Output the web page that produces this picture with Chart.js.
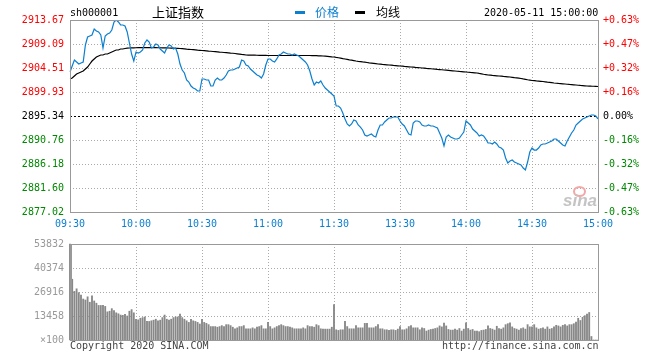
<!DOCTYPE html>
<html>
<head>
<meta charset="utf-8">
<script src="https://cdn.jsdelivr.net/npm/chart.js@4/dist/chart.umd.min.js"></script>
<style>
  html, body { margin: 0; padding: 0; background: #fff; }
  #wrap { position: relative; width: 660px; height: 360px; overflow: hidden;
          font-family: 'DejaVu Sans Mono', monospace; font-size: 10px; }
  #wrap canvas { position: absolute; left: 0; }
  .txt { position: absolute; white-space: nowrap; line-height: 12px; }
  .cjk { font-family: 'Noto Sans CJK SC', sans-serif; line-height: 14px; }
  .key { position: absolute; width: 10px; height: 3px; }
</style>
</head>
<body>
<div id="wrap">
  <canvas id="price" width="660" height="232" style="top:0;width:660px;height:232px"></canvas>
  <canvas id="volume" width="660" height="128" style="top:232px;width:660px;height:128px"></canvas>

  <span class="txt" style="left:70px;top:7px;color:#000">sh000001</span>
  <span class="txt cjk" style="left:152px;top:5px;font-size:13px;color:#000">上证指数</span>
  <span class="key" style="left:295px;top:11px;background:#0b7fd0"></span>
  <span class="txt cjk" style="left:315px;top:5px;font-size:12px;color:#0b7fd0">价格</span>
  <span class="key" style="left:355px;top:11px;background:#000"></span>
  <span class="txt cjk" style="left:376px;top:5px;font-size:12px;color:#000">均线</span>
  <span class="txt" style="left:484px;top:7px;color:#000">2020-05-11 15:00:00</span>

  <span style="position:absolute;left:573px;top:186px;width:9px;height:7px;border:2px solid #f3a8a8;border-radius:50%"></span>
  <span class="txt" style="left:563px;top:192px;font:italic bold 17px 'Liberation Sans',sans-serif;line-height:18px;color:#c4c4c4">sina</span>

  <span class="txt" style="left:70px;top:340px;color:#444">Copyright 2020 SINA.COM</span>
  <span class="txt" style="left:442px;top:340px;color:#444">http://finance.sina.com.cn</span>
</div>

<script>
const BLUE = '#0b7fd0'
const RED = '#f00'
const GREEN = '#080'

// prev close 2895.34, scale symmetric around it
const prevClose = 2895.34
const priceTicks = [2877.02, 2881.60, 2886.18, 2890.76, 2895.34, 2899.93, 2904.51, 2909.09, 2913.67]
const pctTicks = ['-0.63%', '-0.47%', '-0.32%', '-0.16%', '0.00%', '+0.16%', '+0.32%', '+0.47%', '+0.63%']
const timeTicks = ['09:30', '10:00', '10:30', '11:00', '11:30', '13:30', '14:00', '14:30', '15:00']
const timeTickIdx = [0, 30, 60, 90, 120, 150, 180, 210, 240]
const volTicks = [0, 13458, 26916, 40374, 53832]
const volTickLabels = ['×100', '13458', '26916', '40374', '53832']

// one value per minute, 09:30 .. 11:30, 13:01 .. 15:00
const prices = [
  2903.74,2904.89,2906.03,2905.65,2905.27,2905.46,2905.65,2908.90,2910.42,2910.62,
  2910.81,2911.95,2911.57,2911.38,2910.81,2908.33,2910.62,2911.00,2911.19,2911.76,
  2913.29,2913.67,2913.29,2912.72,2912.72,2912.52,2911.38,2909.28,2907.18,2905.84,
  2907.56,2907.37,2907.56,2907.94,2909.28,2909.85,2909.47,2908.33,2908.52,2909.09,
  2908.90,2908.13,2907.75,2907.37,2908.33,2908.90,2908.71,2908.13,2908.33,2907.18,
  2905.27,2904.13,2903.55,2902.22,2901.83,2901.07,2900.69,2900.50,2900.12,2900.12,
  2902.41,2902.41,2902.22,2902.22,2901.07,2901.07,2902.22,2902.60,2902.22,2902.22,
  2902.60,2903.17,2903.93,2904.13,2904.13,2904.32,2904.51,2904.70,2906.03,2905.84,
  2905.08,2904.89,2904.32,2903.93,2903.55,2903.17,2902.98,2902.60,2903.36,2905.08,
  2906.23,2906.23,2905.84,2905.65,2906.23,2906.99,2907.18,2907.56,2907.37,2907.18,
  2907.18,2906.99,2907.18,2906.99,2906.80,2906.42,2906.03,2905.65,2905.08,2903.93,
  2902.41,2901.26,2901.83,2901.64,2902.03,2901.26,2900.69,2900.31,2899.93,2899.54,
  2899.16,2897.25,2897.25,2896.87,2895.92,2894.77,2893.82,2893.44,2893.82,2894.58,
  2894.39,2893.63,2893.24,2892.67,2891.72,2891.53,2891.72,2891.91,2891.53,2891.34,
  2892.67,2893.63,2893.63,2894.20,2894.58,2894.96,2894.96,2895.15,2895.15,2895.15,
  2894.39,2893.82,2893.44,2892.67,2891.91,2891.72,2894.01,2894.39,2894.39,2894.20,
  2893.63,2893.44,2893.44,2893.63,2893.44,2893.44,2893.24,2893.05,2892.10,2891.14,
  2889.62,2891.34,2891.72,2891.34,2891.14,2890.95,2890.95,2891.14,2891.72,2892.29,
  2894.39,2894.01,2893.63,2892.86,2892.48,2892.10,2891.53,2891.72,2891.53,2890.95,
  2890.19,2890.19,2890.00,2890.38,2890.00,2889.43,2889.24,2888.85,2887.33,2886.37,
  2886.75,2886.95,2886.56,2886.37,2886.18,2885.99,2885.42,2885.04,2886.56,2888.47,
  2889.24,2888.85,2888.85,2889.24,2889.81,2890.00,2890.00,2890.19,2890.38,2890.57,
  2890.95,2890.95,2890.57,2890.19,2889.81,2889.62,2890.57,2891.34,2892.10,2892.67,
  2893.63,2894.01,2894.39,2894.77,2894.96,2895.15,2895.34,2895.54,2895.54,2895.34,
  2894.80
]

const avgPrices = [
  2902.41,2902.60,2902.98,2903.36,2903.55,2903.74,2903.93,2904.32,2904.70,2905.27,
  2905.84,2906.23,2906.61,2906.80,2906.99,2906.99,2907.18,2907.18,2907.37,2907.56,
  2907.75,2907.94,2907.94,2908.13,2908.13,2908.23,2908.30,2908.33,2908.35,2908.36,
  2908.37,2908.38,2908.38,2908.38,2908.39,2908.39,2908.39,2908.38,2908.38,2908.38,
  2908.37,2908.37,2908.36,2908.35,2908.34,2908.33,2908.31,2908.29,2908.27,2908.25,
  2908.23,2908.19,2908.15,2908.11,2908.08,2908.04,2908.00,2907.96,2907.92,2907.89,
  2907.85,2907.81,2907.77,2907.73,2907.70,2907.66,2907.62,2907.58,2907.54,2907.51,
  2907.47,2907.43,2907.39,2907.35,2907.32,2907.28,2907.22,2907.16,2907.10,2907.05,
  2906.99,2906.98,2906.97,2906.96,2906.95,2906.94,2906.93,2906.92,2906.91,2906.90,
  2906.89,2906.89,2906.89,2906.89,2906.89,2906.89,2906.89,2906.89,2906.89,2906.89,
  2906.89,2906.89,2906.89,2906.89,2906.89,2906.89,2906.89,2906.89,2906.89,2906.89,
  2906.88,2906.87,2906.86,2906.84,2906.82,2906.80,2906.76,2906.72,2906.68,2906.64,
  2906.61,2906.53,2906.46,2906.38,2906.30,2906.23,2906.15,2906.07,2906.00,2905.92,
  2905.84,2905.78,2905.73,2905.67,2905.62,2905.56,2905.50,2905.45,2905.39,2905.33,
  2905.27,2905.23,2905.19,2905.16,2905.12,2905.08,2905.04,2905.00,2904.97,2904.93,
  2904.89,2904.85,2904.81,2904.78,2904.74,2904.70,2904.66,2904.62,2904.59,2904.55,
  2904.51,2904.47,2904.43,2904.40,2904.36,2904.32,2904.28,2904.24,2904.21,2904.17,
  2904.13,2904.09,2904.05,2904.01,2903.97,2903.93,2903.89,2903.85,2903.82,2903.78,
  2903.74,2903.70,2903.66,2903.63,2903.59,2903.55,2903.47,2903.40,2903.32,2903.25,
  2903.17,2903.13,2903.09,2903.06,2903.02,2902.98,2902.94,2902.90,2902.87,2902.83,
  2902.79,2902.73,2902.67,2902.62,2902.56,2902.50,2902.42,2902.35,2902.27,2902.20,
  2902.12,2902.08,2902.04,2902.01,2901.97,2901.93,2901.87,2901.81,2901.76,2901.70,
  2901.64,2901.60,2901.56,2901.53,2901.49,2901.45,2901.41,2901.37,2901.34,2901.30,
  2901.26,2901.22,2901.18,2901.15,2901.11,2901.07,2901.05,2901.03,2901.02,2901.00,
  2900.98
]

// volume in lots of 100
const volumes = [
  53832,34090,27270,28710,26560,25120,22970,22430,24220,21180,
  24760,21890,20640,19380,19380,19380,18840,15790,16150,17590,
  16510,15250,14710,14000,13820,14360,13460,16150,17050,15250,
  11660,11300,12200,12560,12920,10410,10410,10770,11120,11660,
  10770,11120,12560,14000,11660,11120,11660,12560,12920,12920,
  14530,12560,11660,10770,9870,11660,10770,10410,9870,8970,
  11660,9870,9330,8610,7540,7540,7540,7180,7540,8070,
  7540,8610,8610,8070,7180,6280,6820,7540,7540,8070,
  6280,6280,6280,6820,6280,7180,7540,8070,6280,6280,
  9870,7540,6280,6820,7540,8070,8610,8070,7540,7540,
  7180,6820,6280,6280,6280,6280,6820,6280,8070,7540,
  7540,7180,8610,8070,6280,6100,6100,6100,6100,7180,
  19920,5740,5380,5740,5740,10410,7540,6280,6280,6280,
  8070,6820,6820,6820,9330,9330,6820,6820,6820,7540,
  8610,6280,6280,5740,5740,5380,5740,5740,5380,6100,
  7540,5740,5740,6280,7540,8070,6820,6820,6820,5740,
  6820,6460,5020,5560,5920,6100,6460,6820,7900,7360,
  9510,7900,5920,5560,5560,6100,5560,6460,5020,6100,
  9690,6460,5560,5920,5020,5020,4670,5380,5560,5920,
  7900,6460,6100,5560,7710,6460,6100,6820,8610,9150,
  9690,7360,6460,6100,5560,6460,6820,6100,8610,7360,
  7360,8610,6820,6100,6460,6820,6100,7360,6100,6460,
  7360,8250,7900,7360,8250,8610,7900,8610,8610,9150,
  10050,12200,10940,12740,13640,14530,15430,1970,0,0,
  0
]

// minute categories
const minutes = []
for (let m = 0; m <= 240; m++) {
  const t = m <= 120 ? 570 + m : 780 + (m - 120)
  minutes.push(String(Math.floor(t / 60)).padStart(2, '0') + ':' + String(t % 60).padStart(2, '0'))
}

Chart.defaults.font.family = "'DejaVu Sans Mono', monospace"
Chart.defaults.font.size = 10

// dotted grid + frame, drawn from the scales
const sinaGrid = {
  id: 'sinaGrid',
  beforeDatasetsDraw(chart, args, opts) {
    const {ctx, chartArea: a, scales} = chart
    const x = scales.x, y = scales.y
    ctx.save()
    ctx.lineWidth = 1
    ctx.strokeStyle = '#aaa'
    ctx.setLineDash([1, 2])
    ctx.beginPath()
    opts.hLines.forEach(v => {
      if (v === opts.base) return
      const py = Math.round(y.getPixelForValue(v)) + 0.5
      ctx.moveTo(a.left, py)
      ctx.lineTo(a.right, py)
    })
    opts.vIdx.forEach(i => {
      const px = Math.round(x.getPixelForValue(i)) + 0.5
      ctx.moveTo(px, a.top)
      ctx.lineTo(px, a.bottom)
    })
    ctx.stroke()
    if (opts.base !== undefined) {
      ctx.strokeStyle = '#000'
      ctx.setLineDash([2, 2])
      ctx.beginPath()
      const py = Math.round(y.getPixelForValue(opts.base)) + 0.5
      ctx.moveTo(a.left, py)
      ctx.lineTo(a.right, py)
      ctx.stroke()
    }
    ctx.restore()
  },
  afterDatasetsDraw(chart, args, opts) {
    const {ctx, chartArea: a} = chart
    ctx.save()
    ctx.strokeStyle = '#999'
    ctx.lineWidth = 1
    ctx.setLineDash([])
    ctx.strokeRect(Math.round(a.left) + 0.5, Math.round(a.top) + 0.5,
                   Math.round(a.right - a.left), Math.round(a.bottom - a.top))
    if (opts.thickLeft) {
      ctx.beginPath()
      ctx.moveTo(Math.round(a.left) + 1.5, a.top)
      ctx.lineTo(Math.round(a.left) + 1.5, a.bottom)
      ctx.stroke()
    }
    ctx.restore()
  }
}

function sideColor(i) {
  return i > 4 ? RED : (i < 4 ? GREEN : '#000')
}

const noGrid = {display: false, drawTicks: false}

new Chart(document.getElementById('price'), {
  type: 'line',
  data: {
    labels: minutes,
    datasets: [{
      label: '价格',
      data: prices,
      borderColor: BLUE,
      borderWidth: 1.2,
      pointRadius: 0,
      tension: 0
    }, {
      label: '均线',
      data: avgPrices,
      borderColor: '#000',
      borderWidth: 1.2,
      pointRadius: 0,
      tension: 0
    }]
  },
  options: {
    responsive: false,
    animation: false,
    devicePixelRatio: 1,
    layout: {padding: {top: 20, left: 0, right: 0, bottom: 0}},
    plugins: {
      legend: {display: false},
      tooltip: {enabled: false},
      sinaGrid: {hLines: priceTicks, base: prevClose, vIdx: [30, 60, 90, 120, 150, 180, 210]}
    },
    scales: {
      x: {
        type: 'category',
        offset: false,
        grid: noGrid,
        border: {display: false},
        afterBuildTicks: s => { s.ticks = timeTickIdx.map(v => ({value: v})) },
        afterFit: s => { s.height = 20 },
        ticks: {autoSkip: false, maxRotation: 0, padding: 6, color: BLUE,
                callback: (v, i) => timeTicks[i]}
      },
      y: {
        position: 'left',
        min: priceTicks[0],
        max: priceTicks[priceTicks.length - 1],
        grid: noGrid,
        border: {display: false},
        afterBuildTicks: s => { s.ticks = priceTicks.map(v => ({value: v})) },
        afterFit: s => { s.width = 70 },
        ticks: {padding: 6, color: c => sideColor(c.index), callback: v => v.toFixed(2)}
      },
      y2: {
        position: 'right',
        min: priceTicks[0],
        max: priceTicks[priceTicks.length - 1],
        grid: noGrid,
        border: {display: false},
        afterBuildTicks: s => { s.ticks = priceTicks.map(v => ({value: v})) },
        afterFit: s => { s.width = 62 },
        ticks: {padding: 5, color: c => sideColor(c.index), callback: (v, i) => pctTicks[i]}
      }
    }
  },
  plugins: [sinaGrid]
})

new Chart(document.getElementById('volume'), {
  type: 'bar',
  data: {
    labels: minutes,
    datasets: [{
      label: 'volume',
      data: volumes,
      backgroundColor: '#888',
      barThickness: 1.2,
      clip: false
    }]
  },
  options: {
    responsive: false,
    animation: false,
    devicePixelRatio: 1,
    layout: {padding: {top: 8, left: 0, right: 62, bottom: 20}},
    plugins: {
      legend: {display: false},
      tooltip: {enabled: false},
      sinaGrid: {hLines: volTicks.slice(1, -1), vIdx: [30, 60, 90, 120, 150, 180, 210], thickLeft: true}
    },
    scales: {
      x: {display: false, offset: false, grid: {offset: false}},
      y: {
        min: 0,
        max: volTicks[volTicks.length - 1],
        grid: noGrid,
        border: {display: false},
        afterBuildTicks: s => { s.ticks = volTicks.map(v => ({value: v})) },
        afterFit: s => { s.width = 70 },
        ticks: {padding: 6, color: '#999', callback: (v, i) => volTickLabels[i]}
      }
    }
  },
  plugins: [sinaGrid]
})
</script>
</body>
</html>
